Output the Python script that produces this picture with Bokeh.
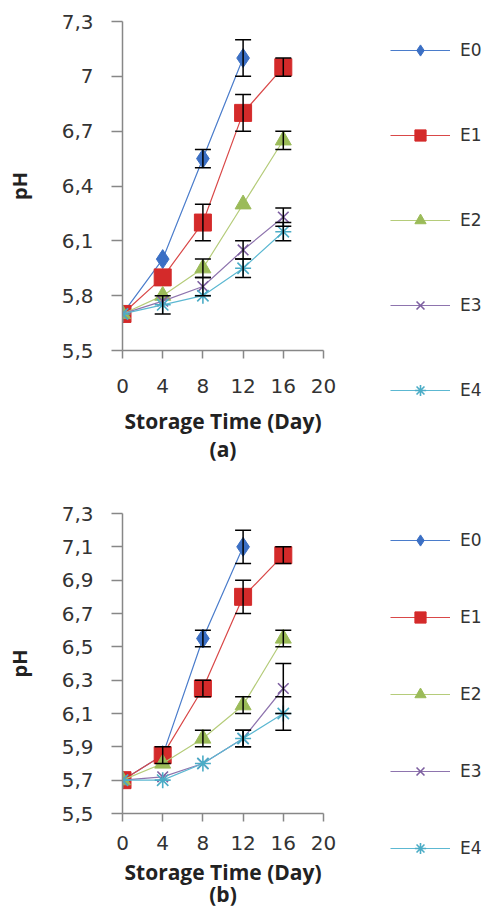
from bokeh.plotting import figure
from bokeh.models import (ColumnDataSource, Whisker, TeeHead, Legend, LegendItem,
                          FixedTicker, CustomJSTickFormatter, Range1d)
from bokeh.layouts import column, row
from bokeh.embed import file_html
from bokeh.resources import INLINE

# ---------------- data ----------------
days = [0, 4, 8, 12, 16]
series_names = ["E0", "E1", "E2", "E3", "E4"]

# panel (a)
a_E0 = [5.70, 6.00, 6.55, 7.10]
a_E1 = [5.70, 5.90, 6.20, 6.80, 7.05]
a_E2 = [5.70, 5.80, 5.95, 6.30, 6.65]
a_E3 = [5.70, 5.77, 5.85, 6.05, 6.23]
a_E4 = [5.70, 5.75, 5.80, 5.95, 6.15]
a_E0_err = [0, 0, 0.05, 0.10]
a_E1_err = [0, 0, 0.10, 0.10, 0.05]
a_E2_err = [0, 0, 0.05, 0, 0.05]
a_E3_err = [0, 0, 0.05, 0.05, 0.05]
a_E4_err = [0, 0.05, 0, 0.05, 0.05]

# panel (b)
b_E0 = [5.70, 5.85, 6.55, 7.10]
b_E1 = [5.70, 5.85, 6.25, 6.80, 7.05]
b_E2 = [5.70, 5.80, 5.95, 6.15, 6.55]
b_E3 = [5.70, 5.72, 5.80, 5.95, 6.25]
b_E4 = [5.70, 5.70, 5.80, 5.95, 6.10]
b_E0_err = [0, 0, 0.05, 0.10]
b_E1_err = [0, 0.05, 0.05, 0.10, 0.05]
b_E2_err = [0, 0, 0.05, 0.05, 0.05]
b_E3_err = [0, 0, 0, 0.05, 0.15]
b_E4_err = [0, 0, 0, 0.05, 0.10]

x_ticks = [0, 4, 8, 12, 16, 20]
a_y_ticks = [5.5, 5.8, 6.1, 6.4, 6.7, 7.0, 7.3]
b_y_ticks = [5.5, 5.7, 5.9, 6.1, 6.3, 6.5, 6.7, 6.9, 7.1, 7.3]

x_label = "Storage Time (Day)"
y_label = "pH"
tags = ["(a)", "(b)"]

# ---------------- styles ----------------
colors = ["#3B6FC4", "#D42A2A", "#9BBB59", "#7D5FA0", "#4BACC6"]
line_colors = ["#4A7CCB", "#D94848", "#B5CC7A", "#8E74AE", "#5CB8D2"]
markers = ["diamond", "square", "triangle", "x", "asterisk"]
msizes = [19, 17, 16, 15, 16]
AXIS_GREY = "#878787"
TICK_FONT = "DejaVu Sans"
LABEL_FONT = "Open Sans"
PLOT_W = 340
TOTAL_W = 486


def add_series(p, values):
    rends = []
    for i, name in enumerate(series_names):
        ys = values[i]
        xs = days[:len(ys)]
        src = ColumnDataSource(dict(x=xs, y=ys))
        lr = p.line("x", "y", source=src, line_color=line_colors[i], line_width=1.2)
        if markers[i] in ("x", "asterisk"):
            sr = p.scatter("x", "y", source=src, marker=markers[i], size=msizes[i],
                           line_color=colors[i], line_width=1.6)
        else:
            sr = p.scatter("x", "y", source=src, marker=markers[i], size=msizes[i],
                           fill_color=colors[i], line_color=colors[i], line_width=1)
        rends.append((name, lr, sr))
    return rends


def make_panel(values, errors, yticks, tag, height, border, tick_standoff,
               xlab_standoff, line_h):
    left, right, top, bottom = border
    p = figure(width=PLOT_W, height=height, output_backend="svg", toolbar_location=None,
               x_range=Range1d(0, 20), y_range=Range1d(5.5, 7.3),
               min_border_left=left, min_border_right=right,
               min_border_top=top, min_border_bottom=bottom)
    p.outline_line_color = None
    p.xgrid.grid_line_color = None
    p.ygrid.grid_line_color = None

    add_series(p, values)

    whisker_data = []
    for i in range(len(series_names)):
        for x, y, e in zip(days, values[i], errors[i]):
            if e > 0:
                whisker_data.append((x, y - e, y + e))
    wsrc = ColumnDataSource(dict(x=[w[0] for w in whisker_data],
                                 lower=[w[1] for w in whisker_data],
                                 upper=[w[2] for w in whisker_data]))
    wh = Whisker(base="x", lower="lower", upper="upper", source=wsrc,
                 line_color="black", line_width=1.5, level="annotation",
                 upper_head=TeeHead(size=16, line_color="black", line_width=1.5),
                 lower_head=TeeHead(size=16, line_color="black", line_width=1.5))
    p.add_layout(wh)

    p.xaxis.ticker = FixedTicker(ticks=x_ticks)
    p.yaxis.ticker = FixedTicker(ticks=yticks)
    p.yaxis.formatter = CustomJSTickFormatter(
        code="const v = Math.round(tick*10)/10; return v.toString().replace('.', ',');")
    for ax in (p.xaxis, p.yaxis):
        ax.axis_line_color = AXIS_GREY
        ax.axis_line_width = 1.5
        ax.major_tick_line_color = AXIS_GREY
        ax.major_tick_line_width = 1.5
        ax.minor_tick_line_color = None
        ax.major_tick_in = 0
        ax.major_label_text_font = TICK_FONT
        ax.major_label_text_font_size = "20px"
        ax.major_label_text_color = "#333333"
        ax.axis_label_text_font = LABEL_FONT
        ax.axis_label_text_font_style = "bold"
        ax.axis_label_text_color = "#222222"
    p.xaxis.major_tick_out = 8
    p.yaxis.major_tick_out = 11
    p.xaxis.major_label_standoff = tick_standoff
    p.yaxis.major_label_standoff = 18
    p.xaxis.axis_label = x_label + "\n" + tag
    p.xaxis.axis_label_text_font_size = "21px"
    p.xaxis.axis_label_text_line_height = line_h
    p.xaxis.axis_label_standoff = xlab_standoff
    p.yaxis.axis_label = y_label
    p.yaxis.axis_label_text_font_size = "20px"
    p.yaxis.axis_label_standoff = 26
    return p


def make_legend_fig(values, height, left, top, spacing):
    lf = figure(width=TOTAL_W - PLOT_W, height=height, output_backend="svg",
                toolbar_location=None, x_range=Range1d(100, 101), y_range=Range1d(100, 101),
                x_axis_location=None, y_axis_location=None,
                min_border_left=left, min_border_top=top,
                min_border_right=0, min_border_bottom=0)
    lf.outline_line_color = None
    lf.xgrid.grid_line_color = None
    lf.ygrid.grid_line_color = None
    rends = add_series(lf, values)
    items = [LegendItem(label=n, renderers=[lr, sr]) for n, lr, sr in rends]
    legend = Legend(items=items, location="top_left", orientation="vertical",
                    nrows=len(items), ncols=1,
                    glyph_width=60, glyph_height=28, label_height=28,
                    spacing=spacing, label_standoff=10, padding=0, margin=0,
                    border_line_color=None, background_fill_alpha=0,
                    label_text_font=TICK_FONT, label_text_font_size="17px",
                    label_text_color="#333333")
    lf.add_layout(legend)
    return lf


H1 = 466
H2 = 913 - H1
a_vals = [a_E0, a_E1, a_E2, a_E3, a_E4]
b_vals = [b_E0, b_E1, b_E2, b_E3, b_E4]

pa = make_panel(a_vals, [a_E0_err, a_E1_err, a_E2_err, a_E3_err, a_E4_err],
                a_y_ticks, tags[0], H1, (117, PLOT_W - 323, 21, H1 - 350), 20, 11, 1.03)
la = make_legend_fig(a_vals, H1, 388 - PLOT_W, 50 - 14, 57)

pb = make_panel(b_vals, [b_E0_err, b_E1_err, b_E2_err, b_E3_err, b_E4_err],
                b_y_ticks, tags[1], H2, (122, PLOT_W - 328, 513 - H1, 913 - 813), 14, 5, 0.8)
lb = make_legend_fig(b_vals, H2, 390 - PLOT_W, 540 - H1 - 14, 49)

layout = row(column(pa, pb, spacing=0), column(la, lb, spacing=0), spacing=0)
open("out.html", "w").write(file_html(layout, INLINE))
